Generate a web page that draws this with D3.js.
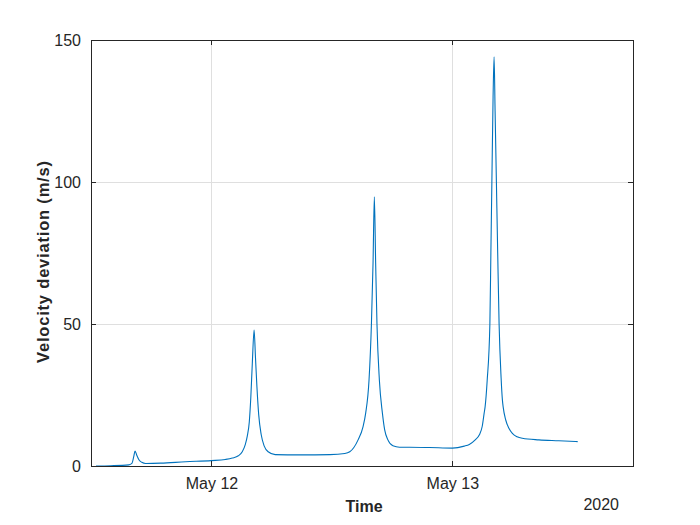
<!DOCTYPE html>
<html>
<head>
<meta charset="utf-8">
<title>Velocity deviation</title>
<script src="https://cdn.jsdelivr.net/npm/d3@7"></script>
<style>
  body { margin: 0; background: #fff; }
  svg { font-family: "Liberation Sans", Arial, sans-serif; }
</style>
</head>
<body>
<div id="chart"></div>
<script>
// hours since 2020-05-11 00:00
var hours = [12.50, 13.98, 15.77, 16.07, 16.27, 16.39, 16.56, 16.79, 17.06, 17.45,
             18.94, 21.42, 24.00, 25.39, 26.08, 26.68, 27.07, 27.37, 27.57, 27.77,
             27.92, 28.07, 28.25, 28.39, 28.53, 28.71, 28.96, 29.26, 29.65, 30.35,
             32.83, 35.80, 37.29, 37.78, 38.61, 39.10, 39.37, 39.70, 39.94, 40.10,
             40.23, 40.36, 40.49, 40.73, 41.03, 41.26, 41.58, 42.08, 42.74, 43.74,
             45.72, 48.00, 49.19, 49.69, 50.28, 50.68, 50.98, 51.17, 51.27, 51.47,
             51.74, 51.84, 51.94, 52.06, 52.16, 52.26, 52.39, 52.52, 52.66, 52.86,
             52.99, 53.06, 53.32, 53.65, 53.98, 54.45, 54.98, 56.63, 58.61, 60.49];
var velDev = [0.0, 0.1, 0.4, 0.9, 3.5, 5.3, 3.8, 2.1, 1.3, 0.9,
              1.0, 1.5, 1.9, 2.3, 2.8, 3.6, 5.0, 7.5, 10.5, 15.5,
              24, 36, 47.9, 38, 28, 18, 11, 7, 5.0, 4.0,
              3.9, 4.0, 4.4, 5.0, 9.2, 13.8, 18.7, 30.3, 50.2, 71.5,
              94.8, 71.5, 50.2, 30.3, 18.7, 12.7, 9.2, 7.1, 6.6, 6.6,
              6.5, 6.3, 7.0, 7.6, 9.2, 10.9, 14, 18.6, 21, 30,
              49.9, 75, 100.1, 130, 144.1, 125, 100.1, 75, 49.9, 31,
              23.2, 20.9, 16.2, 13.2, 11.5, 10.3, 9.75, 9.2, 8.9, 8.6];
var yTicks = [0, 50, 100, 150];
var xTickLabels = ["May 12", "May 13"];

var W = 700, H = 525;
var margin = {left: 91, right: 67, top: 40, bottom: 59};
var iw = W - margin.left - margin.right,
    ih = H - margin.top - margin.bottom;

var t0 = new Date(2020, 4, 11);
function toDate(h) { return new Date(t0.getTime() + h * 3600e3); }
var data = hours.map(function(h, i) { return {t: toDate(h), v: velDev[i]}; });
var xTickDates = [toDate(24), toDate(48)];

var x = d3.scaleTime().domain([toDate(12), toDate(66)]).range([0, iw]);
var y = d3.scaleLinear().domain([0, 150]).range([ih, 0]);

var svg = d3.select("#chart").append("svg").attr("width", W).attr("height", H);
var g = svg.append("g").attr("transform", "translate(" + margin.left + "," + margin.top + ")");

// grid
g.selectAll(".gy").data(yTicks.slice(1, -1)).enter().append("line")
  .attr("x1", 0).attr("x2", iw)
  .attr("y1", function(d) { return y(d); }).attr("y2", function(d) { return y(d); })
  .attr("stroke", "#dfdfdf").attr("stroke-width", 1).attr("shape-rendering", "crispEdges");
g.selectAll(".gx").data(xTickDates).enter().append("line")
  .attr("x1", function(d) { return x(d); }).attr("x2", function(d) { return x(d); })
  .attr("y1", 0).attr("y2", ih)
  .attr("stroke", "#dfdfdf").attr("stroke-width", 1).attr("shape-rendering", "crispEdges");

// line
g.append("path").datum(data)
  .attr("fill", "none").attr("stroke", "#0072BD").attr("stroke-width", 1.1)
  .attr("stroke-linejoin", "round")
  .attr("d", d3.line().x(function(d) { return x(d.t); }).y(function(d) { return y(d.v); })
    .curve(d3.curveMonotoneX));

// axes (ticks inward, box)
var axCol = "#262626";
var yAxis = d3.axisLeft(y).tickValues(yTicks).tickSizeInner(-5).tickSizeOuter(0).tickPadding(10);
var xAxis = d3.axisBottom(x).tickValues(xTickDates).tickSizeInner(-5).tickSizeOuter(0).tickPadding(12)
  .tickFormat(function(d, i) { return xTickLabels[i]; });

var ya = g.append("g").call(yAxis);
var xa = g.append("g").attr("transform", "translate(0," + ih + ")").call(xAxis);
var yr = g.append("g").attr("transform", "translate(" + iw + ",0)")
  .call(d3.axisRight(y).tickValues(yTicks).tickSizeInner(-5).tickSizeOuter(0).tickFormat(""));
var xt = g.append("g")
  .call(d3.axisTop(x).tickValues(xTickDates).tickSizeInner(-5).tickSizeOuter(0).tickFormat(""));

[ya, xa, yr, xt].forEach(function(a) {
  a.selectAll("path").attr("stroke", axCol).attr("shape-rendering", "crispEdges");
  a.selectAll("line").attr("stroke", axCol).attr("shape-rendering", "crispEdges");
  a.selectAll("text").attr("fill", axCol).style("font-size", "16px")
    .style("font-family", "'Liberation Sans', Arial, sans-serif");
});

// labels
svg.append("text").attr("x", margin.left + iw / 2 + 2).attr("y", 512)
  .attr("text-anchor", "middle").attr("fill", axCol)
  .style("font-size", "16px").style("font-weight", "bold").text("Time");
svg.append("text").attr("transform", "translate(49,262) rotate(-90)")
  .attr("text-anchor", "middle").attr("fill", axCol)
  .attr("textLength", 202).attr("lengthAdjust", "spacing")
  .style("font-size", "16.5px").style("font-weight", "bold").text("Velocity deviation (m/s)");
svg.append("text").attr("x", 619).attr("y", 510)
  .attr("text-anchor", "end").attr("fill", axCol)
  .style("font-size", "16px").text("2020");
</script>
</body>
</html>
